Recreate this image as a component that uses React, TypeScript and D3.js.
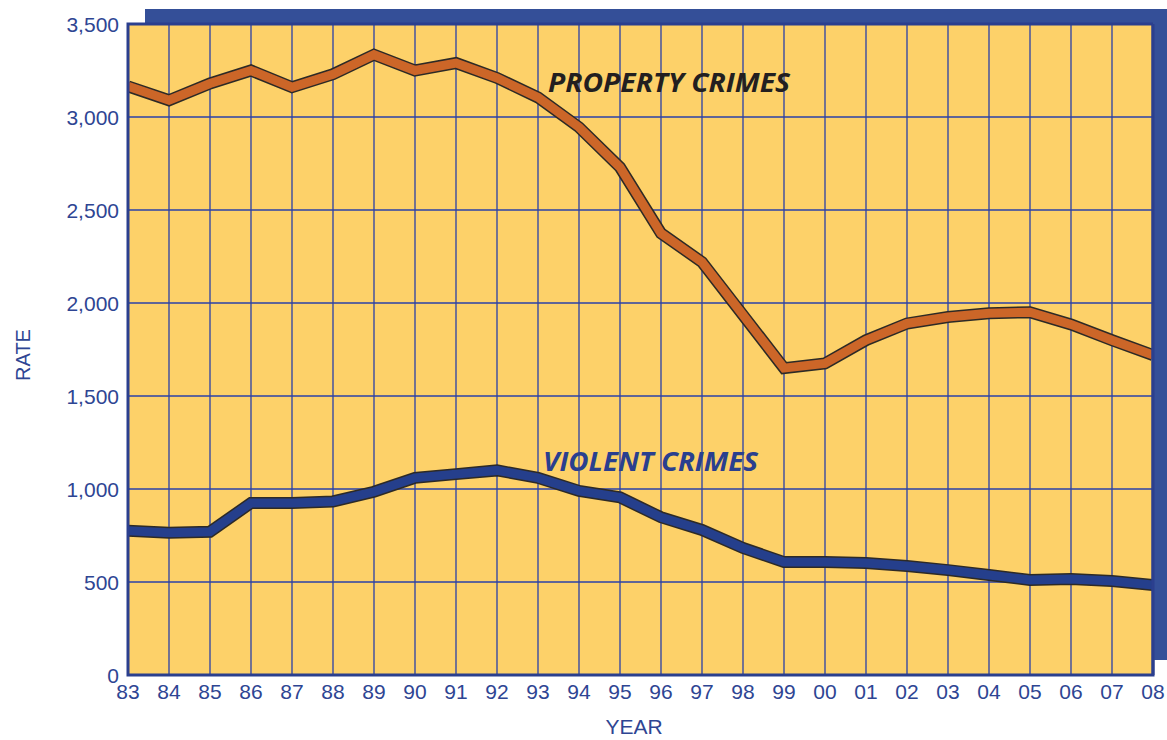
import React from 'react'
import * as d3 from 'd3'

// year labels (two digits, as printed on the axis)
const years = ['83', '84', '85', '86', '87', '88', '89', '90', '91', '92', '93', '94', '95', '96', '97', '98', '99', '00', '01', '02', '03', '04', '05', '06', '07', '08']

// rates
const propertyCrimes = [3165, 3090, 3180, 3250, 3160, 3230, 3335, 3250, 3290, 3210, 3105, 2945, 2730, 2375, 2220, 1935, 1650, 1675, 1800, 1890, 1925, 1945, 1950, 1885, 1800, 1720]
const violentCrimes = [775, 765, 770, 925, 925, 933, 985, 1060, 1080, 1100, 1060, 990, 955, 848, 780, 683, 607, 607, 602, 586, 564, 538, 511, 516, 505, 484]

const yTicks = [0, 500, 1000, 1500, 2000, 2500, 3000, 3500]

const W = 1167
const H = 740
const plot = { left: 128, right: 1153, top: 24, bottom: 675 }
const shadow = { dx: 17, dy: -15 }

const navy = '#2b3f8e'
const gridBlue = '#2a40a8'
const labelBlue = '#2e4593'
const fill = '#fdd169'

const App = () => {
  const x = d3.scalePoint<string>().domain(years).range([plot.left, plot.right])
  const y = d3.scaleLinear().domain([0, 3500]).range([plot.bottom, plot.top])
  const fmt = d3.format(',')

  const line = d3.line<number>()
    .x((_, i) => x(years[i]) as number)
    .y(d => y(d))

  const series = [
    { values: propertyCrimes, color: '#cc6628' },
    { values: violentCrimes, color: '#253f8c' }
  ]

  return (
    <svg width={W} height={H} style={{ position: 'absolute', left: 0, top: 0, display: 'block' }}
      fontFamily="'Liberation Sans', Arial, sans-serif">
      <defs>
        <clipPath id="plot-clip">
          <rect x={plot.left} y={plot.top} width={plot.right - plot.left} height={plot.bottom - plot.top} />
        </clipPath>
      </defs>

      {/* offset shadow frame */}
      <rect x={plot.left + shadow.dx} y={plot.top + shadow.dy}
        width={plot.right - plot.left + 10} height={plot.bottom - plot.top} fill='#344f98' />

      {/* plot background */}
      <rect x={plot.left} y={plot.top} width={plot.right - plot.left} height={plot.bottom - plot.top} fill={fill} />

      {/* grid */}
      <g stroke={gridBlue} strokeWidth={1.3}>
        {years.map(yr => (
          <line key={yr} x1={x(yr)} x2={x(yr)} y1={plot.top} y2={plot.bottom} />
        ))}
        {yTicks.map(t => (
          <line key={t} x1={plot.left} x2={plot.right} y1={y(t)} y2={y(t)} />
        ))}
      </g>

      {/* series */}
      <g clipPath='url(#plot-clip)' fill='none' strokeLinejoin='miter' strokeLinecap='butt'>
        {series.map((s, i) => (
          <g key={i}>
            <path d={line(s.values) ?? ''} stroke='#2d2a26' strokeWidth={12} />
            <path d={line(s.values) ?? ''} stroke={s.color} strokeWidth={9} />
          </g>
        ))}
      </g>

      {/* frame */}
      <path d={`M${plot.left},${plot.top} H${plot.right} V${plot.bottom} H${plot.left} Z`}
        fill='none' stroke={navy} strokeWidth={3} />
      <rect x={plot.right} y={plot.top + shadow.dy} width={W - plot.right} height={plot.bottom - plot.top}
        fill='#344f98' />
      <line x1={plot.right} x2={plot.right} y1={plot.top} y2={plot.bottom} stroke={navy} strokeWidth={3} />

      {/* series labels */}
      <text x={548} y={92} fontFamily="'Open Sans', sans-serif" fontWeight={700} fontStyle='italic'
        fontSize={27} fill='#231f20' textLength={242} lengthAdjust='spacingAndGlyphs'>PROPERTY CRIMES</text>
      <text x={543} y={471} fontFamily="'Open Sans', sans-serif" fontWeight={700} fontStyle='italic'
        fontSize={27} fill='#2a3f8f' textLength={215} lengthAdjust='spacingAndGlyphs'>VIOLENT CRIMES</text>

      {/* y axis labels */}
      <g fill={labelBlue} fontSize={21} textAnchor='end'>
        {yTicks.map(t => (
          <text key={t} x={119} y={y(t)} dy='0.36em'>{fmt(t)}</text>
        ))}
      </g>

      {/* x axis labels */}
      <g fill={labelBlue} fontSize={21} textAnchor='middle'>
        {years.map(yr => (
          <text key={yr} x={x(yr)} y={699}>{yr}</text>
        ))}
      </g>

      <text transform='translate(30, 355) rotate(-90)' textAnchor='middle' fill={labelBlue} fontSize={20}>RATE</text>
      <text x={634} y={734} textAnchor='middle' fill={labelBlue} fontSize={21}>YEAR</text>
    </svg>
  )
}

export default App
